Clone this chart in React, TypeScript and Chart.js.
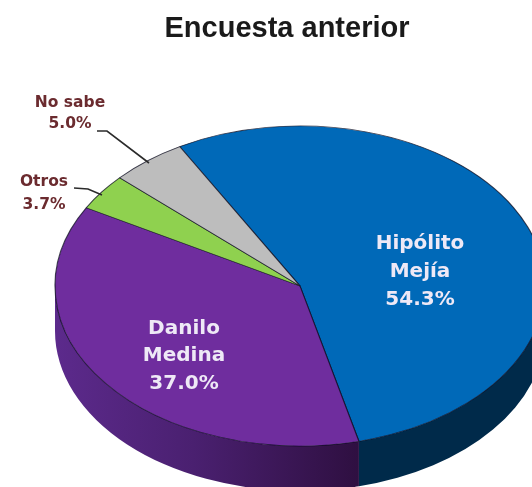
import React, { useEffect, useRef } from "react";
import { Chart, registerables } from "chart.js";

Chart.register(...registerables);

const categories = ["Hipólito Mejía", "Danilo Medina", "Otros", "No sabe"];
const shareValues = [54.3, 37.0, 3.7, 5.0];
const topColors = ["#0069b8", "#6f2d9e", "#8fd14f", "#bdbdbd"];
const titleText = "Encuesta anterior";

const CX = 300, CY = 286, RX = 245, RY = 160, DEPTH = 45;

function norm(a: number) {
  const t = Math.PI * 2;
  return ((a % t) + t) % t;
}

const pie3d = {
  id: "pie3d",
  beforeDatasetsDraw(chart: any) {
    const { ctx } = chart;
    const arcs = chart.getDatasetMeta(0).data;
    ctx.save();
    arcs.forEach((a: any, i: number) => {
      const start = norm(a.startAngle);
      const end = start + (a.endAngle - a.startAngle);
      for (const off of [0, Math.PI * 2]) {
        const lo = Math.max(start, off);
        const hi = Math.min(end, off + Math.PI);
        if (hi <= lo) continue;
        ctx.beginPath();
        ctx.ellipse(CX, CY, RX, RY, 0, lo, hi);
        ctx.ellipse(CX, CY + DEPTH, RX, RY, 0, hi, lo, true);
        ctx.closePath();
        if (i === 1) {
          const g = ctx.createLinearGradient(CX - RX, 0, CX + 62, 0);
          g.addColorStop(0, "#5c2a8c");
          g.addColorStop(0.45, "#4a2070");
          g.addColorStop(1, "#2e0f40");
          ctx.fillStyle = g;
        } else if (i === 0) {
          ctx.fillStyle = "#002a4a";
        } else {
          ctx.fillStyle = "#555555";
        }
        ctx.fill();
      }
    });
    ctx.restore();

    const a0 = arcs[0];
    ctx.save();
    ctx.translate(CX, CY);
    ctx.scale(RX / a0.outerRadius, RY / a0.outerRadius);
    ctx.translate(-a0.x, -a0.y);
  },
  afterDatasetsDraw(chart: any) {
    const { ctx } = chart;
    ctx.restore();
    ctx.save();
    ctx.textAlign = "center";
    ctx.textBaseline = "middle";

    ctx.fillStyle = "#eee9f6";
    ctx.font = "bold 20px 'DejaVu Sans'";
    ctx.fillText("Hipólito", 420, 244);
    ctx.fillText("Mejía", 420, 272);
    ctx.fillText(shareValues[0].toFixed(1) + "%", 420, 300);
    ctx.fillText("Danilo", 184, 329);
    ctx.fillText("Medina", 184, 356);
    ctx.fillText(shareValues[1].toFixed(1) + "%", 184, 384);

    ctx.fillStyle = "#6b2b2f";
    ctx.font = "bold 15.5px 'DejaVu Sans'";
    ctx.fillText("No sabe", 70, 103);
    ctx.fillText(shareValues[3].toFixed(1) + "%", 70, 124);
    ctx.fillText("Otros", 44, 182);
    ctx.fillText(shareValues[2].toFixed(1) + "%", 44, 205);

    ctx.strokeStyle = "#2b2b2b";
    ctx.lineWidth = 1.6;
    ctx.beginPath();
    ctx.moveTo(97, 131);
    ctx.lineTo(107, 131);
    ctx.lineTo(149, 163);
    ctx.moveTo(74, 188);
    ctx.lineTo(88, 189);
    ctx.lineTo(102, 195);
    ctx.stroke();
    ctx.restore();
  },
};

export default function App() {
  const ref = useRef<HTMLCanvasElement>(null);
  useEffect(() => {
    document.body.style.margin = "0";
    const chart = new Chart(ref.current as HTMLCanvasElement, {
      type: "pie",
      data: {
        labels: categories,
        datasets: [
          {
            data: shareValues,
            backgroundColor: topColors,
            borderColor: "rgba(10,10,30,0.75)",
            borderWidth: 1,
            clip: false,
          } as any,
        ],
      },
      options: {
        responsive: false,
        animation: false,
        rotation: -29.4,
        layout: { padding: { left: 42 } },
        plugins: {
          legend: { display: false },
          tooltip: { enabled: false },
          title: {
            display: true,
            text: titleText,
            color: "#1a1a1a",
            font: { family: "'Liberation Sans'", size: 29, weight: "bold" },
            padding: { top: 12, bottom: 10 },
          },
        },
      },
      plugins: [pie3d],
    } as any);
    return () => chart.destroy();
  }, []);
  return (
    <canvas
      ref={ref}
      width={532}
      height={487}
      style={{ display: "block", width: 532, height: 487, filter: "blur(0.6px)" }}
    />
  );
}
